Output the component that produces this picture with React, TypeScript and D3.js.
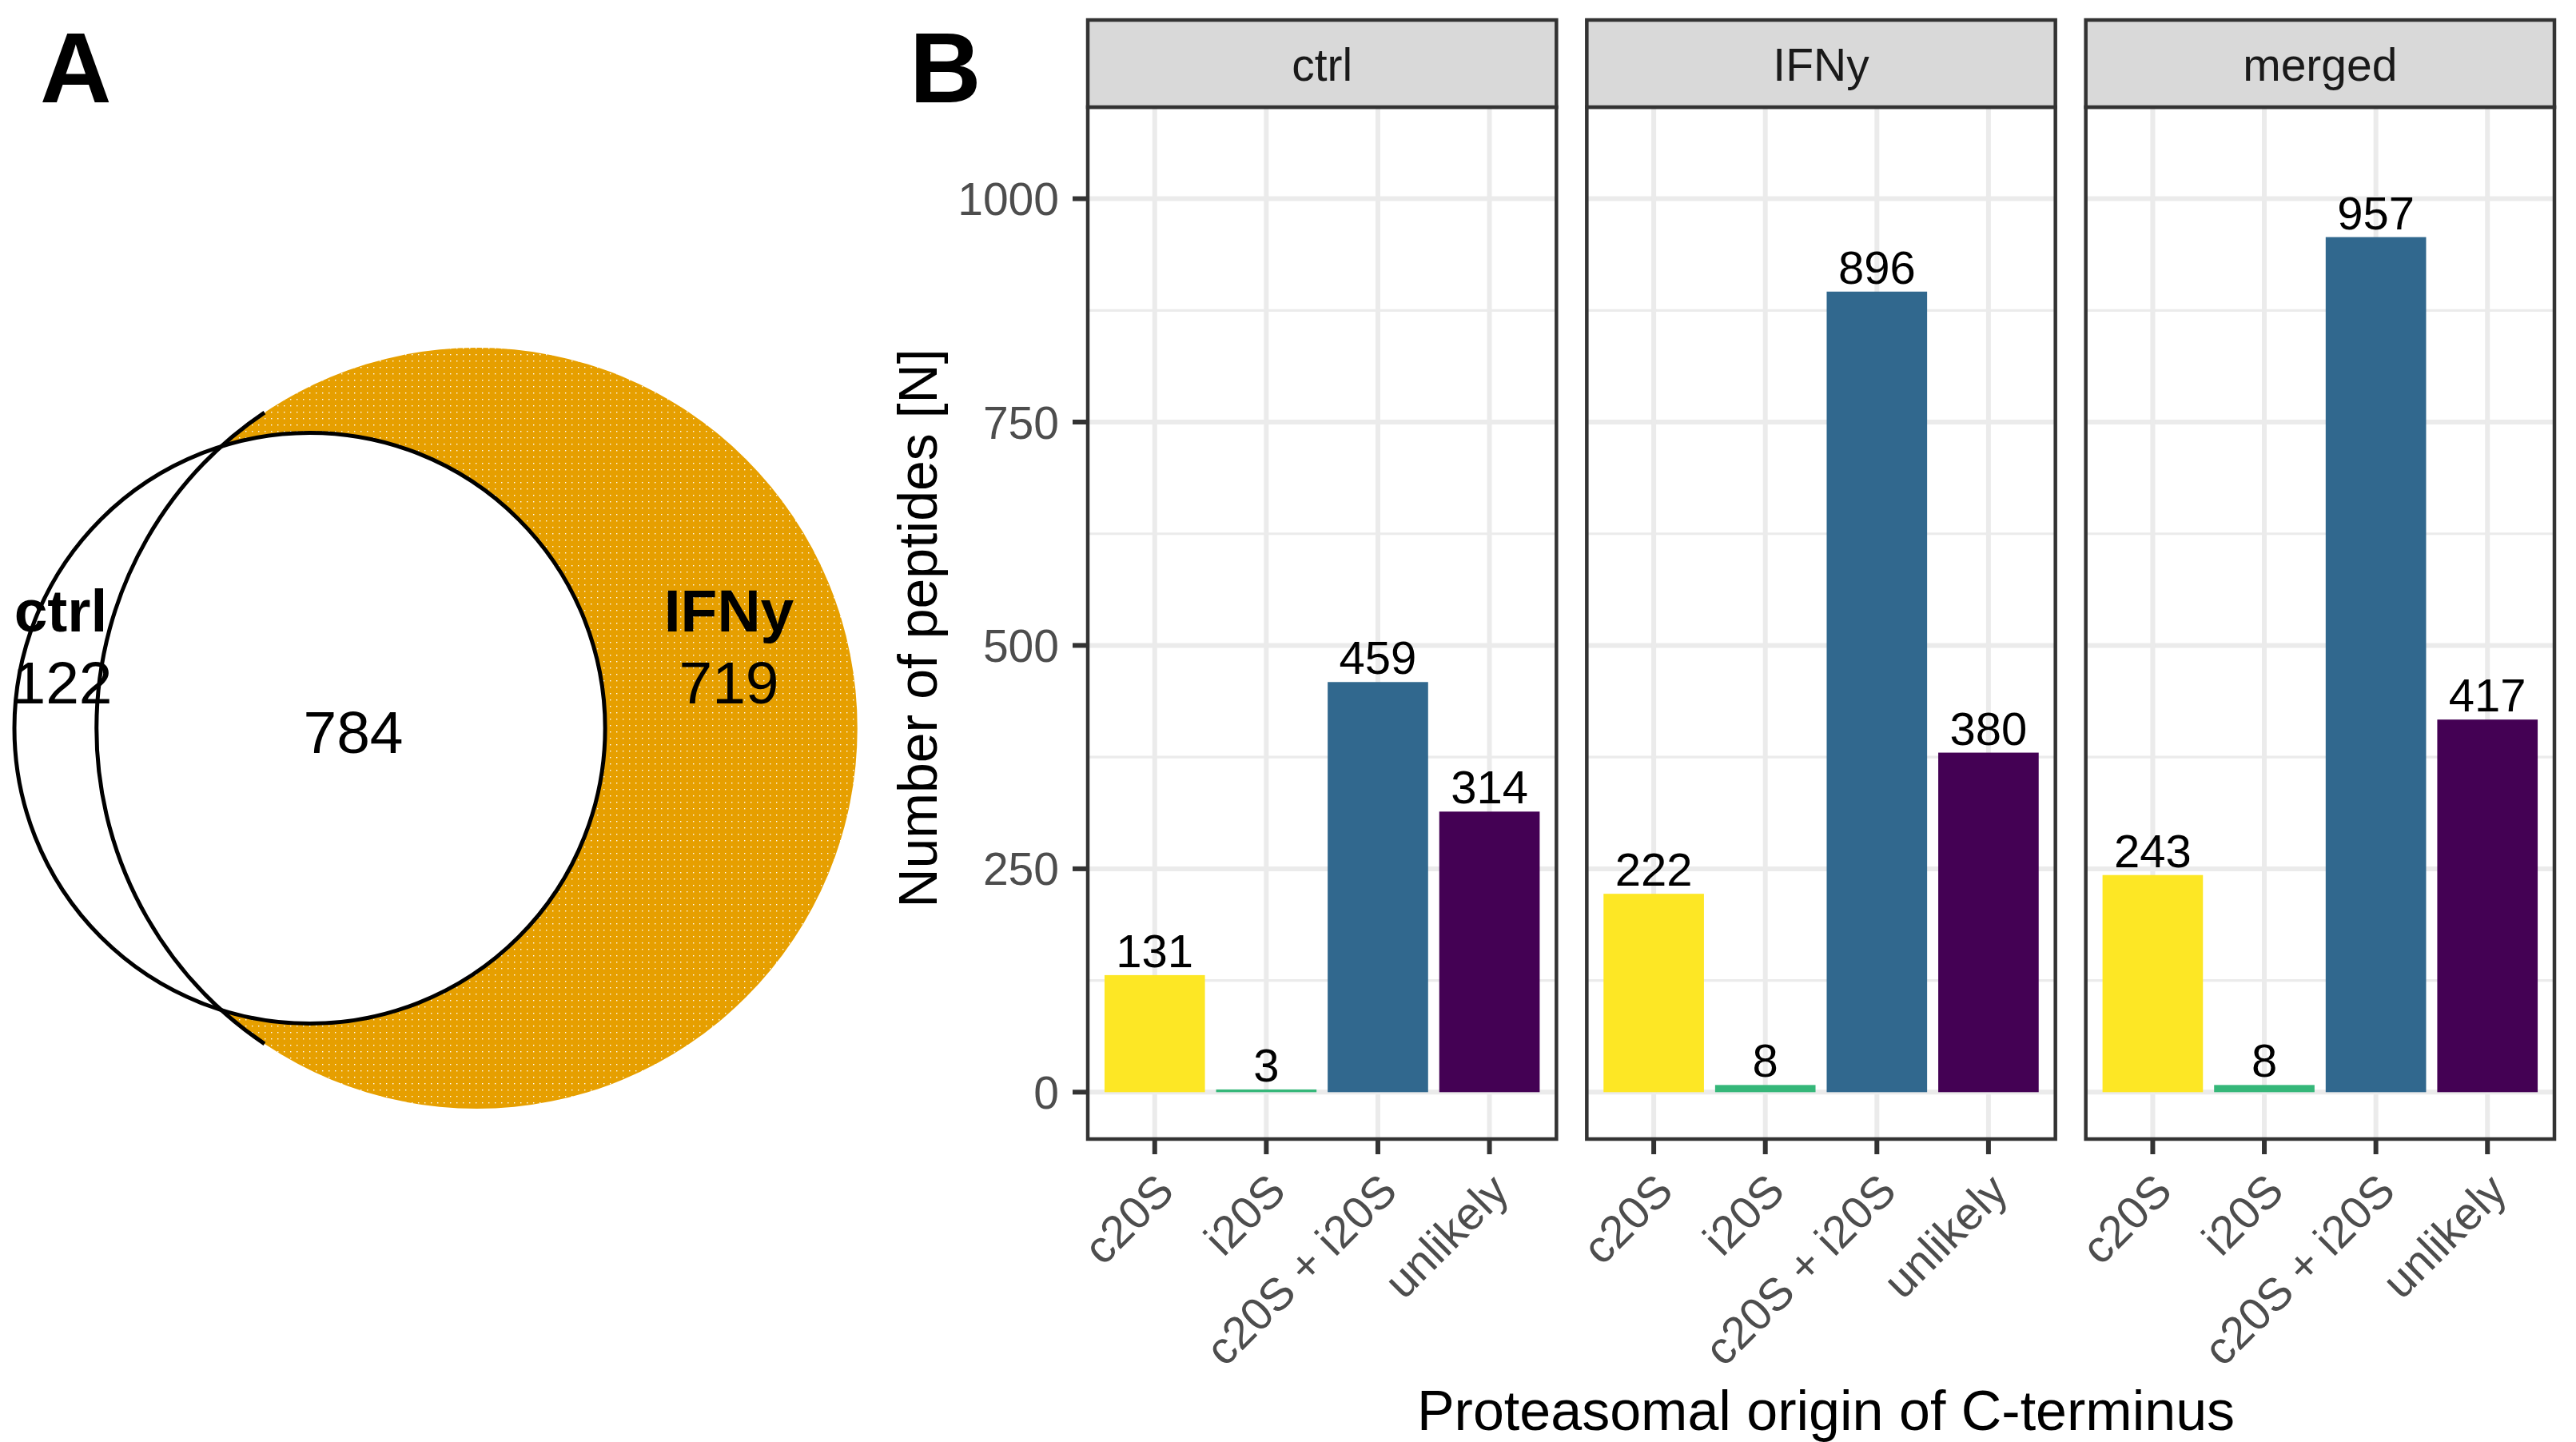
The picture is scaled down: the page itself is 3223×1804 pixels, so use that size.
import React, { useEffect } from 'react';
import * as d3 from 'd3';

// ── Venn (panel A) ─────────────────────────────────────────────
const vennSets = ['ctrl', 'IFNy'];
const vennOnly = [122, 719]; // ctrl only, IFNy only
const vennBoth = 784;

// ── Bars (panel B) ─────────────────────────────────────────────
const facets = ['ctrl', 'IFNy', 'merged'];
const origins = ['c20S', 'i20S', 'c20S + i20S', 'unlikely'];
const ctrlCounts = [131, 3, 459, 314];
const ifnCounts = [222, 8, 896, 380];
const mergedCounts = [243, 8, 957, 417];
const facetCounts = [ctrlCounts, ifnCounts, mergedCounts];
const yTicks = [0, 250, 500, 750, 1000];
const yMinor = [125, 375, 625, 875];
const originColors = ['#FDE725', '#35B779', '#31688E', '#440154'];

const W = 3223;
const H = 1804;
const FONT = '"Liberation Sans", Arial, Helvetica, sans-serif';

// lens area of two circles at distance d
const lensArea = (r1: number, r2: number, d: number) => {
  if (d >= r1 + r2) return 0;
  if (d <= Math.abs(r1 - r2)) return Math.PI * Math.min(r1, r2) ** 2;
  const a1 = Math.acos((d * d + r1 * r1 - r2 * r2) / (2 * d * r1));
  const a2 = Math.acos((d * d + r2 * r2 - r1 * r1) / (2 * d * r2));
  const k = Math.sqrt((-d + r1 + r2) * (d + r1 - r2) * (d - r1 + r2) * (d + r1 + r2));
  return r1 * r1 * a1 + r2 * r2 * a2 - 0.5 * k;
};

const Venn: React.FC = () => {
  const totals = [vennOnly[0] + vennBoth, vennOnly[1] + vennBoth];
  const rBig = 476;
  const pxPerUnit = (Math.PI * rBig * rBig) / totals[1];
  const r = d3.scaleSqrt().domain([0, totals[1]]).range([0, rBig]);
  const rc = r(totals[0]);
  const ri = r(totals[1]);
  // bisection for centre distance so that the overlap area matches
  const target = vennBoth * pxPerUnit;
  let lo = Math.abs(ri - rc), hi = ri + rc;
  for (let i = 0; i < 60; i++) {
    const mid = (lo + hi) / 2;
    if (lensArea(rc, ri, mid) > target) lo = mid; else hi = mid;
  }
  const d = (lo + hi) / 2;
  const cy = 911;
  const cxC = 18 + rc;
  const cxI = cxC + d;

  // intersection angle on IFNy circle
  const a = (d * d + ri * ri - rc * rc) / (2 * d);
  const h = Math.sqrt(ri * ri - a * a);
  const ang = Math.atan2(h, -a); // lower intersection, screen coords
  const ext = 0.144;
  const p = d3.path();
  p.arc(cxI, cy, ri, ang - ext, 2 * Math.PI - ang + ext, false);

  return (
    <g>
      <defs>
        <pattern id="dots" width={8} height={8} patternUnits="userSpaceOnUse">
          <rect width={8} height={8} fill="#E69F00" />
          <rect x={3} y={3} width={1.4} height={1.4} fill="#ffffff" />
        </pattern>
      </defs>
      <circle cx={cxI} cy={cy} r={ri} fill="url(#dots)" />
      <circle cx={cxC} cy={cy} r={rc} fill="#ffffff" stroke="#000" strokeWidth={5} />
      <path d={p.toString()} fill="none" stroke="#000" strokeWidth={5} />
      <g fontFamily={FONT} fontSize={75} textAnchor="middle" fill="#000">
        <text x={76} y={790} fontWeight="bold">{vennSets[0]}</text>
        <text x={78} y={880}>{vennOnly[0]}</text>
        <text x={912} y={790} fontWeight="bold">{vennSets[1]}</text>
        <text x={912} y={880}>{vennOnly[1]}</text>
        <text x={442} y={942}>{vennBoth}</text>
      </g>
    </g>
  );
};

const Bars: React.FC = () => {
  const left = 1361, right = 3196, gap = 38;
  const pw = (right - left - gap * (facets.length - 1)) / facets.length;
  const stripTop = 25, panelTop = 134, panelBottom = 1425;
  const yMax = 1050;
  const y = d3.scaleLinear()
    .domain([-0.05 * yMax, yMax * 1.05])
    .range([panelBottom, panelTop]);

  return (
    <g fontFamily={FONT}>
      {facets.map((f, fi) => {
        const x0 = left + fi * (pw + gap);
        const xc = d3.scalePoint<string>().domain(origins).range([x0, x0 + pw]).padding(0.6);
        const xb = d3.scaleBand<string>().domain(origins).range([x0, x0 + pw])
          .paddingInner(0.1).paddingOuter(0.15);
        const vals = facetCounts[fi];
        return (
          <g key={f}>
            <rect x={x0} y={panelTop} width={pw} height={panelBottom - panelTop} fill="#fff" />
            {yMinor.map(t => (
              <line key={'m' + t} x1={x0} x2={x0 + pw} y1={y(t)} y2={y(t)} stroke="#EBEBEB" strokeWidth={3.2} />
            ))}
            {yTicks.map(t => (
              <line key={'g' + t} x1={x0} x2={x0 + pw} y1={y(t)} y2={y(t)} stroke="#EBEBEB" strokeWidth={6} />
            ))}
            {origins.map(o => (
              <line key={'v' + o} x1={xc(o)!} x2={xc(o)!} y1={panelTop} y2={panelBottom} stroke="#EBEBEB" strokeWidth={6} />
            ))}
            {origins.map((o, i) => (
              <rect key={'b' + o} x={xb(o)!} width={xb.bandwidth()} y={y(vals[i])}
                height={y(0) - y(vals[i])} fill={originColors[i]} />
            ))}
            {origins.map((o, i) => (
              <text key={'l' + o} x={xc(o)!} y={y(vals[i]) - 10} textAnchor="middle"
                fontSize={58} fill="#000">{vals[i]}</text>
            ))}
            <rect x={x0} y={panelTop} width={pw} height={panelBottom - panelTop}
              fill="none" stroke="#333333" strokeWidth={4.5} />
            <rect x={x0} y={stripTop} width={pw} height={panelTop - stripTop}
              fill="#D9D9D9" stroke="#333333" strokeWidth={4.5} />
            <text x={x0 + pw / 2} y={101} textAnchor="middle" fontSize={57} fill="#1A1A1A">{f}</text>
            {origins.map(o => (
              <line key={'t' + o} x1={xc(o)!} x2={xc(o)!} y1={panelBottom} y2={panelBottom + 19}
                stroke="#333333" strokeWidth={6} />
            ))}
            {origins.map(o => {
              const tx = xc(o)! + 27, ty = 1493;
              return (
                <text key={'x' + o} x={tx} y={ty} textAnchor="end" fontSize={57} fill="#4D4D4D"
                  transform={`rotate(-45, ${tx}, ${ty})`}>{o}</text>
              );
            })}
            {fi === 0 && yTicks.map(t => (
              <g key={'y' + t}>
                <line x1={x0 - 19} x2={x0} y1={y(t)} y2={y(t)} stroke="#333333" strokeWidth={6} />
                <text x={x0 - 36} y={y(t)} dy="0.36em" textAnchor="end" fontSize={57} fill="#4D4D4D">{t}</text>
              </g>
            ))}
          </g>
        );
      })}
      <text transform="translate(1172, 786) rotate(-90)" textAnchor="middle" fontSize={68} fill="#000">
        Number of peptides [N]
      </text>
      <text x={(left + right) / 2 + 6} y={1789} textAnchor="middle" fontSize={70} fill="#000">
        Proteasomal origin of C-terminus
      </text>
    </g>
  );
};

export default function App() {
  useEffect(() => {
    document.body.style.margin = '0';
  }, []);
  return (
    <svg width={W} height={H} viewBox={`0 0 ${W} ${H}`} style={{ display: 'block', background: '#fff' }}>
      <rect width={W} height={H} fill="#fff" />
      <Venn />
      <Bars />
      <g fontFamily={FONT} fontWeight="bold" fontSize={124} fill="#000">
        <text x={50} y={128}>A</text>
        <text x={1138} y={128}>B</text>
      </g>
    </svg>
  );
}
